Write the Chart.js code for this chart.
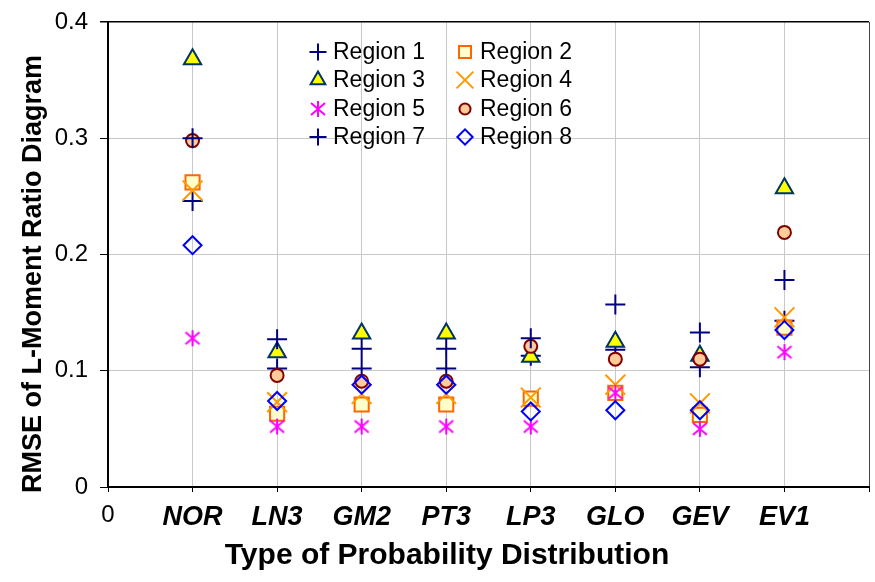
<!DOCTYPE html>
<html>
<head>
<meta charset="utf-8">
<title>RMSE of L-Moment Ratio Diagram</title>
<script src="https://cdn.jsdelivr.net/npm/chart.js@4.4.0/dist/chart.umd.min.js"></script>
<style>
    html, body { margin: 0; padding: 0; background: #fff; }
    #wrap { width: 875px; height: 582px; }
</style>
</head>
<body>
<div id="wrap"><canvas id="rmseChart" width="875" height="582"></canvas></div>
<script>
// values
const distributions = ["NOR", "LN3", "GM2", "PT3", "LP3", "GLO", "GEV", "EV1"];
const yTickLabels = ["0", "0.1", "0.2", "0.3", "0.4"];
const regionNames = ["Region 1", "Region 2", "Region 3", "Region 4", "Region 5", "Region 6", "Region 7", "Region 8"];

const region1 = [0.246, 0.102, 0.102, 0.102, 0.113, 0.118, 0.103, 0.143];
const region2 = [0.262, 0.063, 0.071, 0.071, 0.076, 0.081, 0.062, 0.137];
const region3 = [0.368, 0.116, 0.132, 0.132, 0.112, 0.125, 0.113, 0.257];
const region4 = [0.255, 0.073, 0.080, 0.080, 0.077, 0.088, 0.072, 0.146];
const region5 = [0.128, 0.052, 0.052, 0.052, 0.052, 0.081, 0.050, 0.116];
const region6 = [0.298, 0.096, 0.091, 0.091, 0.121, 0.110, 0.110, 0.219];
const region7 = [0.300, 0.127, 0.119, 0.119, 0.128, 0.157, 0.133, 0.178];
const region8 = [0.208, 0.074, 0.088, 0.088, 0.065, 0.066, 0.066, 0.135];

const FONT = "'Liberation Sans', Arial, sans-serif";

// six-armed asterisk marker like the one Excel uses
function makeAsterisk(color) {
    const c = document.createElement("canvas");
    c.width = 20;
    c.height = 20;
    const g = c.getContext("2d");
    g.strokeStyle = color;
    g.lineWidth = 2;
    g.beginPath();
    g.moveTo(10, 2); g.lineTo(10, 18);
    g.moveTo(3, 4); g.lineTo(17, 16);
    g.moveTo(17, 4); g.lineTo(3, 16);
    g.stroke();
    return c;
}

const toPoints = (arr) => arr.map((v, i) => ({ x: i + 1, y: v }));

const styles = [
    { data: region1, pointStyle: "cross", radius: 10, bg: "#000080", border: "#000080" },
    { data: region2, pointStyle: "rect", radius: 10, bg: "#FFFFCC", border: "#FF6600" },
    { data: region3, pointStyle: "triangle", radius: 10, bg: "#FFFF00", border: "#003366" },
    { data: region4, pointStyle: "crossRot", radius: 14, bg: "#FF9900", border: "#FF9900" },
    { data: region5, pointStyle: makeAsterisk("#FF00FF"), radius: 10, bg: "#FF00FF", border: "#FF00FF" },
    { data: region6, pointStyle: "circle", radius: 6.5, bg: "#FFCC99", border: "#800000" },
    { data: region7, pointStyle: "cross", radius: 10, bg: "#000080", border: "#000080" },
    { data: region8, pointStyle: "rectRot", radius: 9, bg: "rgba(0,0,0,0)", border: "#0000FF" }
];

const datasets = styles.map((s, i) => ({
    label: regionNames[i],
    data: toPoints(s.data),
    pointStyle: s.pointStyle,
    pointRadius: s.radius,
    pointHoverRadius: s.radius,
    pointBackgroundColor: s.bg,
    pointBorderColor: s.border,
    pointBorderWidth: 2,
    showLine: false,
    order: styles.length - i
}));

// legend inside the plot plus the two axis titles
const extras = {
    id: "extras",
    afterDraw(chart) {
        const ctx = chart.ctx;
        const colX = [318, 465];
        const rowY = [52, 80, 109, 137];
        ctx.save();
        datasets.forEach((ds, i) => {
            const x = colX[i % 2];
            const y = rowY[Math.floor(i / 2)];
            ctx.fillStyle = ds.pointBackgroundColor;
            ctx.strokeStyle = ds.pointBorderColor;
            ctx.lineWidth = 2;
            Chart.helpers.drawPoint(ctx, {
                pointStyle: ds.pointStyle,
                radius: ds.pointRadius * 0.85,
                rotation: 0,
                borderWidth: 2
            }, x, y);
            ctx.fillStyle = "#000";
            ctx.font = "23px " + FONT;
            ctx.textAlign = "left";
            ctx.textBaseline = "middle";
            ctx.fillText(ds.label, x + 15, y + 1);
        });

        ctx.fillStyle = "#000";
        ctx.font = "bold 30px " + FONT;
        ctx.textAlign = "center";
        ctx.textBaseline = "middle";
        ctx.fillText("Type of Probability Distribution", 447, 556);

        ctx.translate(34, 274);
        ctx.rotate(-Math.PI / 2);
        ctx.font = "bold 27px " + FONT;
        ctx.fillText("RMSE of L-Moment Ratio Diagram", 0, 0);
        ctx.restore();
    }
};

new Chart(document.getElementById("rmseChart"), {
    type: "scatter",
    data: { datasets },
    options: {
        responsive: false,
        animation: false,
        devicePixelRatio: 1,
        layout: { autoPadding: false, padding: { top: 22, right: 6, left: 0, bottom: 0 } },
        plugins: {
            legend: { display: false },
            tooltip: { enabled: false }
        },
        scales: {
            x: {
                type: "linear",
                min: 0,
                max: 9,
                afterFit: (scale) => {
                    scale.height = 95;
                    scale.paddingLeft = 0;
                    scale.paddingRight = 0;
                },
                border: { color: "#000", width: 2 },
                grid: {
                    color: (c) => c.tick.value === 9 ? "#444" : "#c8c8c8",
                    tickColor: "#000",
                    tickLength: 5
                },
                ticks: {
                    stepSize: 1,
                    autoSkip: false,
                    maxRotation: 0,
                    padding: 9,
                    color: "#000",
                    font: (c) => (c.tick && c.tick.value === 0)
                        ? { family: FONT, size: 24 }
                        : { family: FONT, size: 27, weight: "bold", style: "italic" },
                    callback: (v) => v === 0 ? "0" : (distributions[v - 1] || "")
                }
            },
            y: {
                min: 0,
                max: 0.4,
                afterFit: (scale) => {
                    scale.width = 108;
                    scale.paddingTop = 0;
                    scale.paddingBottom = 0;
                },
                border: { color: "#000", width: 2 },
                grid: {
                    color: (c) => c.tick.value > 0.39 ? "#000" : "#c8c8c8",
                    lineWidth: (c) => c.tick.value > 0.39 ? 1.5 : 1,
                    tickColor: "#000",
                    tickLength: 8
                },
                ticks: {
                    stepSize: 0.1,
                    padding: 12,
                    color: "#000",
                    font: { family: FONT, size: 24 },
                    callback: (v, i) => yTickLabels[i]
                }
            }
        }
    },
    plugins: [extras]
});
</script>
</body>
</html>
